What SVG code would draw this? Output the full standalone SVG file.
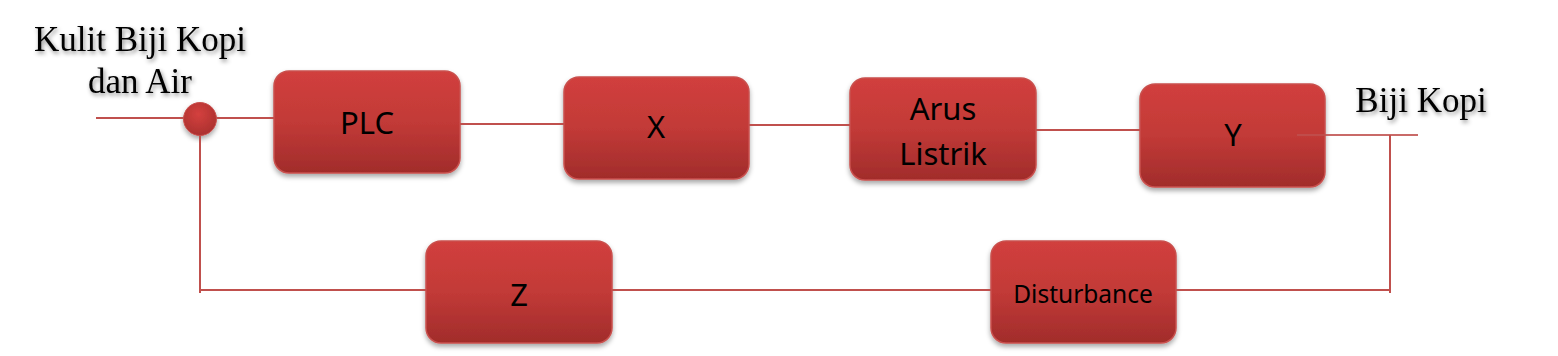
<svg xmlns="http://www.w3.org/2000/svg" width="1558" height="356" viewBox="0 0 1558 356">
<style>
.box{fill:url(#g);stroke:#c9504d;stroke-width:1.5;filter:url(#sh)}
.lbl{font-family:"Noto Sans","Open Sans",sans-serif;font-size:31px;fill:#000;text-anchor:middle}
.ser{font-family:"Liberation Serif",serif;font-size:35px;fill:#000;text-anchor:middle;filter:url(#tsh)}
.ln{stroke:#c0504d;stroke-width:2;fill:none}
</style>
<defs>
<linearGradient id="g" x1="0" y1="0" x2="0" y2="1">
<stop offset="0" stop-color="#d13f3d"/>
<stop offset="0.5" stop-color="#c23a37"/>
<stop offset="1" stop-color="#a12c2b"/>
</linearGradient>
<radialGradient id="cg" cx="0.45" cy="0.35" r="0.7">
<stop offset="0" stop-color="#d4403e"/>
<stop offset="1" stop-color="#a8302e"/>
</radialGradient>
<filter id="sh" x="-10%" y="-10%" width="120%" height="130%">
<feDropShadow dx="0" dy="3" stdDeviation="2.5" flood-color="#000" flood-opacity="0.35"/>
</filter>
<filter id="tsh" x="-10%" y="-20%" width="120%" height="150%">
<feDropShadow dx="1.5" dy="2.5" stdDeviation="2" flood-color="#000" flood-opacity="0.45"/>
</filter>
</defs>
<g id="labels">
<text class="ser" x="140" y="51">Kulit Biji Kopi</text>
<text class="ser" x="140" y="93">dan Air</text>
<text class="ser" x="1421" y="112">Biji Kopi</text>
</g>
<g id="node-sum"><circle cx="200" cy="119" r="16.5" fill="url(#cg)" stroke="#c9504d" stroke-width="1" filter="url(#sh)"/></g>
<g id="node-plc"><rect class="box" x="274" y="71" width="186" height="102" rx="15"/><text class="lbl" x="367" y="134">PLC</text></g>
<g id="node-x"><rect class="box" x="564" y="77" width="185" height="102" rx="15"/><text class="lbl" x="656" y="138">X</text></g>
<g id="node-arus"><rect class="box" x="850" y="78" width="186" height="102" rx="15"/><text class="lbl" x="943" y="120">Arus</text><text class="lbl" x="943" y="165">Listrik</text></g>
<g id="node-y"><rect class="box" x="1140" y="84" width="185" height="103" rx="15"/><text class="lbl" x="1233" y="146">Y</text></g>
<g id="node-z"><rect class="box" x="426" y="241" width="186" height="102" rx="15"/><text class="lbl" x="519" y="306">Z</text></g>
<g id="node-dist"><rect class="box" x="991" y="241" width="185" height="102" rx="15"/><text class="lbl" x="1083" y="303" style="font-size:24.5px">Disturbance</text></g>
<g id="connectors">
<line class="ln" x1="96" y1="118" x2="184" y2="118"/>
<line class="ln" x1="216" y1="118" x2="274" y2="118"/>
<line class="ln" x1="460" y1="124" x2="564" y2="124"/>
<line class="ln" x1="749" y1="125" x2="850" y2="125"/>
<line class="ln" x1="1036" y1="130" x2="1140" y2="130"/>
<line class="ln" x1="1297" y1="135" x2="1418" y2="135" stroke-opacity="0.85"/>
<line class="ln" x1="1390" y1="135" x2="1390" y2="293"/>
<line class="ln" x1="1390" y1="290" x2="1176" y2="290"/>
<line class="ln" x1="991" y1="290" x2="612" y2="290"/>
<line class="ln" x1="426" y1="290" x2="200" y2="290"/>
<line class="ln" x1="200" y1="135" x2="200" y2="293"/>
</g>
</svg>
